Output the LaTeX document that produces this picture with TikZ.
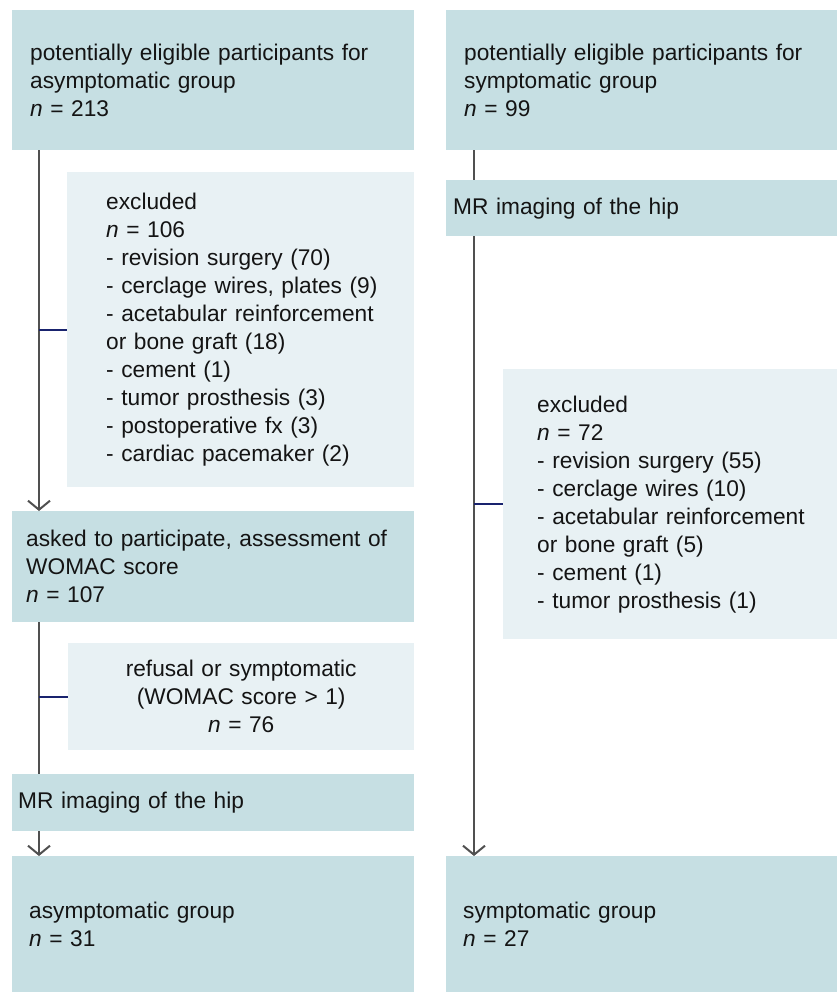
\documentclass[tikz,border=0pt]{standalone}
\usepackage{fontspec}
\setmainfont{Liberation Sans}
\usetikzlibrary{arrows.meta}
\definecolor{boxdark}{RGB}{198,223,227}
\definecolor{boxlight}{RGB}{232,241,244}
\definecolor{linegray}{RGB}{80,80,80}
\definecolor{ticknavy}{RGB}{25,35,110}
\begin{document}
\begin{tikzpicture}[x=1pt,y=-1pt,
  every node/.style={font=\fontsize{22.7}{28}\selectfont, text=black!92},
  boxbase/.style={draw=none, rectangle, anchor=north west, inner ysep=0pt, inner xsep=0pt, align=left},
  padl/.style={execute at begin node={\leftskip=#1\relax\hyphenpenalty=10000\relax}},
  darkbox/.style={boxbase, fill=boxdark},
  lightbox/.style={boxbase, fill=boxlight},
  conn/.style={draw=linegray, line width=2pt},
  arr/.style={conn, -{Straight Barb[length=9pt,width=22pt,line width=2pt]}},
  tickline/.style={draw=ticknavy, line width=2pt}]
\useasboundingbox (0,0) rectangle (838,994);
% boxes
\node[darkbox, padl=18pt, text width=402pt, minimum height=140pt] (tl) at (12,10)
  {potentially eligible participants for\\asymptomatic group\\\textit{n} = 213};
\node[darkbox, padl=18pt, text width=391pt, minimum height=140pt] (tr) at (446,10)
  {potentially eligible participants for\\symptomatic group\\\textit{n} = 99};
\node[darkbox, padl=7pt, text width=391pt, minimum height=56pt] (rmr) at (446,180)
  {MR imaging of the hip};
\node[lightbox, padl=39pt, text width=347pt, minimum height=315pt] (exa) at (67,172)
  {excluded\\\textit{n} = 106\\- revision surgery (70)\\- cerclage wires, plates (9)\\- acetabular reinforcement\\or bone graft (18)\\- cement (1)\\- tumor prosthesis (3)\\- postoperative fx (3)\\- cardiac pacemaker (2)};
\node[lightbox, padl=34pt, text width=334pt, minimum height=270pt] (exb) at (503,369)
  {excluded\\\textit{n} = 72\\- revision surgery (55)\\- cerclage wires (10)\\- acetabular reinforcement\\or bone graft (5)\\- cement (1)\\- tumor prosthesis (1)};
\node[darkbox, padl=14pt, text width=402pt, minimum height=111pt] (ask) at (12,511)
  {asked to participate, assessment of\\WOMAC score\\\textit{n} = 107};
\node[lightbox, align=center, text width=346pt, minimum height=107pt] (ref) at (68,643)
  {refusal or symptomatic\\(WOMAC score > 1)\\\textit{n} = 76};
\node[darkbox, padl=6pt, text width=402pt, minimum height=57pt] (lmr) at (12,774)
  {MR imaging of the hip};
\node[darkbox, padl=17pt, text width=402pt, minimum height=136pt] (asy) at (12,856)
  {asymptomatic group\\\textit{n} = 31};
\node[darkbox, padl=17pt, text width=391pt, minimum height=136pt] (sym) at (446,856)
  {symptomatic group\\\textit{n} = 27};
% line positions
\coordinate (lx) at (39,0);
\coordinate (rx) at (474,0);
% left connectors
\draw[arr] (tl.south -| lx) -- (ask.north -| lx);
\draw[tickline] (exa.west -| lx) -- (exa.west);
\draw[conn] (ask.south -| lx) -- (lmr.north -| lx);
\draw[tickline] (ref.west -| lx) -- (ref.west);
\draw[arr] (lmr.south -| lx) -- (asy.north -| lx);
% right connectors
\draw[conn] (tr.south -| rx) -- (rmr.north -| rx);
\draw[arr] (rmr.south -| rx) -- (sym.north -| rx);
\draw[tickline] (exb.west -| rx) -- (exb.west);
\end{tikzpicture}
\end{document}
